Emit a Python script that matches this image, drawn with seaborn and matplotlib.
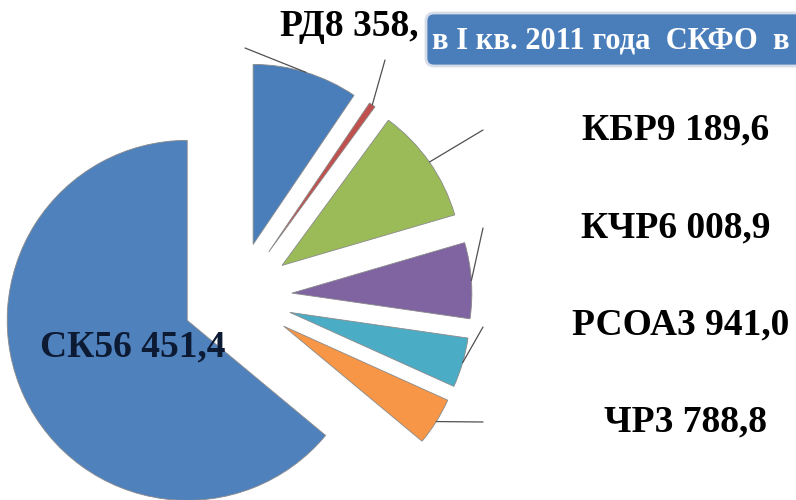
import numpy as np
import matplotlib
matplotlib.use('Agg')
import matplotlib.pyplot as plt
from matplotlib.patches import FancyBboxPatch
import seaborn as sns

# data: I quarter 2011, NCFD regions
regions = ['РД', 'РИ', 'КБР', 'КЧР', 'РСОА', 'ЧР', 'СК']
values = [8358.0, 520.0, 9189.6, 6008.9, 3941.0, 3788.8, 56451.4]
labels = ['РД8 358,', None, 'КБР9 189,6', 'КЧР6 008,9', 'РСОА3 941,0', 'ЧР3 788,8', 'СК56 451,4']
title = 'в I кв. 2011 года  СКФО  в'

sns.set_style('white')
plt.rcParams['font.family'] = ['Liberation Serif', 'DejaVu Serif']

colors = ['#4a7ebb', '#c0504d', '#9bbb59', '#8064a2', '#4bacc6', '#f79646', '#4f81bd']

fig = plt.figure(figsize=(7.96, 5), dpi=100)
ax = fig.add_axes([0, 0, 1, 1])

wedges, _ = ax.pie(values, colors=colors, startangle=90, counterclock=False,
                   radius=180, center=(237, 203), explode=[55] * len(values),
                   wedgeprops=dict(edgecolor='#8a8a8a', linewidth=0.6))

# label placement (text position, leader end)
text_pos = [(280, 473), None, (676, 370), (676, 272), (681, 175), (685, 78), (133, 153)]
line_end = [(245, 452), (385, 440), (483, 370), (483, 272), (483, 173), (483, 78), None]
ha = ['left', None, 'center', 'center', 'center', 'center', 'center']

for i, w in enumerate(wedges):
    if line_end[i] is not None:
        th = np.deg2rad((w.theta1 + w.theta2) / 2)
        x0 = w.center[0] + w.r * np.cos(th)
        y0 = w.center[1] + w.r * np.sin(th)
        ax.plot([x0, line_end[i][0]], [y0, line_end[i][1]], color='#505050', lw=0.9)
    if labels[i]:
        c = '#0d1a33' if regions[i] == 'СК' else 'black'
        ax.text(text_pos[i][0], text_pos[i][1], labels[i], ha=ha[i], va='center',
                fontsize=27, fontweight='bold', color=c)

# title box (cut by the right edge as in the source)
box = FancyBboxPatch((426, 434), 420, 53, boxstyle='round,pad=0,rounding_size=8',
                     fc='#4a7ebb', ec='#d6dde8', lw=2, zorder=4)
ax.add_patch(box)
ax.text(432, 459, title, ha='left', va='center', fontsize=22, fontweight='bold',
        color='white', zorder=5)

ax.set_xlim(0, 796)
ax.set_ylim(0, 500)
ax.set_aspect('equal')
ax.axis('off')

fig.savefig('out.png', dpi=100)
